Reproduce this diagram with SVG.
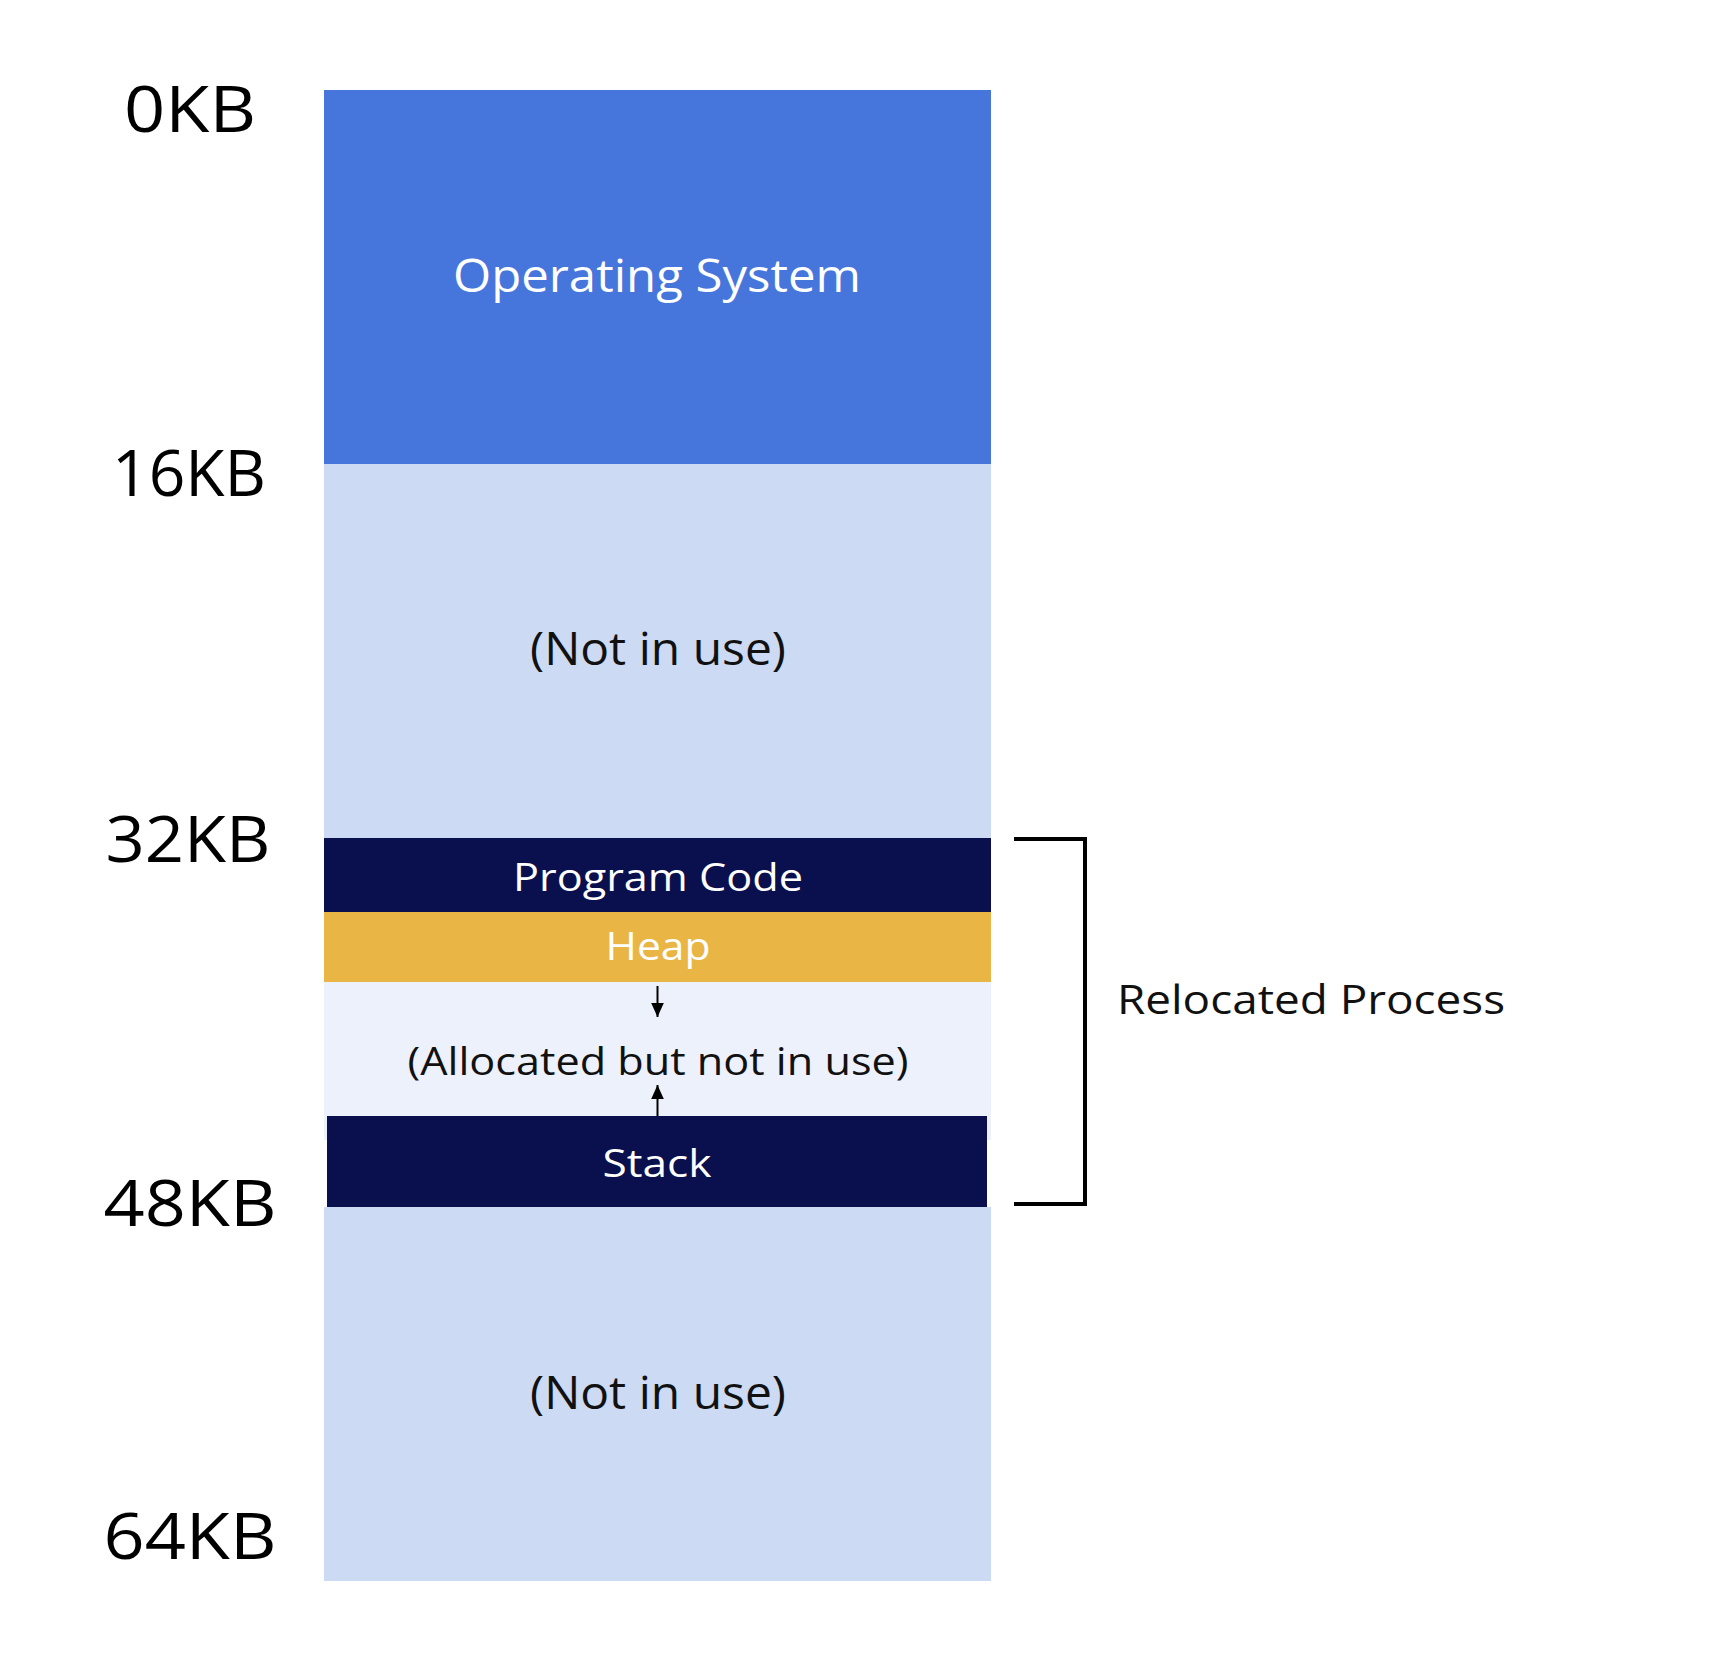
<svg xmlns="http://www.w3.org/2000/svg" width="1710" height="1668" viewBox="0 0 1710 1668">
<style>
text{font-family:"Open Sans","Noto Sans","Liberation Sans",sans-serif;}
.addr{font-size:64px;fill:#000;text-anchor:middle;}
.lbl{font-size:45px;text-anchor:middle;}
.sm{font-size:39px;text-anchor:middle;}
.w{fill:#fff;}
.k{fill:#111;}
</style>
<defs>
<marker id="ah" viewBox="0 0 10 10" refX="10" refY="5" markerWidth="14" markerHeight="14" markerUnits="userSpaceOnUse" orient="auto">
<path d="M0,0.5 L10,5 L0,9.5 z" fill="#000"/>
</marker>
</defs>
<rect width="1710" height="1668" fill="#fff"/>
<g id="addresses">
<text class="addr" x="190" y="132" textLength="132" lengthAdjust="spacingAndGlyphs">0KB</text>
<text class="addr" x="189" y="496" textLength="154" lengthAdjust="spacingAndGlyphs">16KB</text>
<text class="addr" x="188" y="862" textLength="165" lengthAdjust="spacingAndGlyphs">32KB</text>
<text class="addr" x="190" y="1226" textLength="173" lengthAdjust="spacingAndGlyphs">48KB</text>
<text class="addr" x="190" y="1559" textLength="173" lengthAdjust="spacingAndGlyphs">64KB</text>
</g>
<g id="os">
<rect x="324" y="90" width="667" height="374" fill="#4676DC"/>
<text class="lbl w" x="657" y="292" textLength="408" lengthAdjust="spacingAndGlyphs">Operating System</text>
</g>
<g id="free1">
<rect x="324" y="464" width="667" height="374" fill="#CCDAF4"/>
<text class="lbl k" x="658" y="665" textLength="256" lengthAdjust="spacingAndGlyphs">(Not in use)</text>
</g>
<g id="code">
<rect x="324" y="838" width="667" height="74" fill="#0A104E"/>
<text class="sm w" x="658" y="891" textLength="290" lengthAdjust="spacingAndGlyphs">Program Code</text>
</g>
<g id="heap">
<rect x="324" y="912" width="667" height="70" fill="#E9B646"/>
<text class="sm w" x="658" y="960" textLength="105" lengthAdjust="spacingAndGlyphs">Heap</text>
</g>
<g id="alloc">
<rect x="324" y="982" width="667" height="158" fill="#EDF1FC"/>
<text class="sm k" x="658" y="1075" textLength="501" lengthAdjust="spacingAndGlyphs">(Allocated but not in use)</text>
</g>
<g id="stack">
<rect x="327" y="1116" width="660" height="91" fill="#0A104E"/>
<text class="sm w" x="657" y="1177" textLength="109" lengthAdjust="spacingAndGlyphs">Stack</text>
</g>
<g id="free2">
<rect x="324" y="1207" width="667" height="374" fill="#CCDAF4"/>
<text class="lbl k" x="658" y="1409" textLength="256" lengthAdjust="spacingAndGlyphs">(Not in use)</text>
</g>
<g id="process">
<text x="1117" y="1014" font-size="40" fill="#111" textLength="388" lengthAdjust="spacingAndGlyphs">Relocated Process</text>
</g>
<g id="connectors" fill="none" stroke="#000">
<line x1="657.5" y1="986" x2="657.5" y2="1017" stroke-width="2" marker-end="url(#ah)"/>
<line x1="657.5" y1="1116" x2="657.5" y2="1085" stroke-width="2" marker-end="url(#ah)"/>
<polyline points="1014,839 1085,839 1085,1204 1014,1204" stroke-width="4"/>
</g>
</svg>
